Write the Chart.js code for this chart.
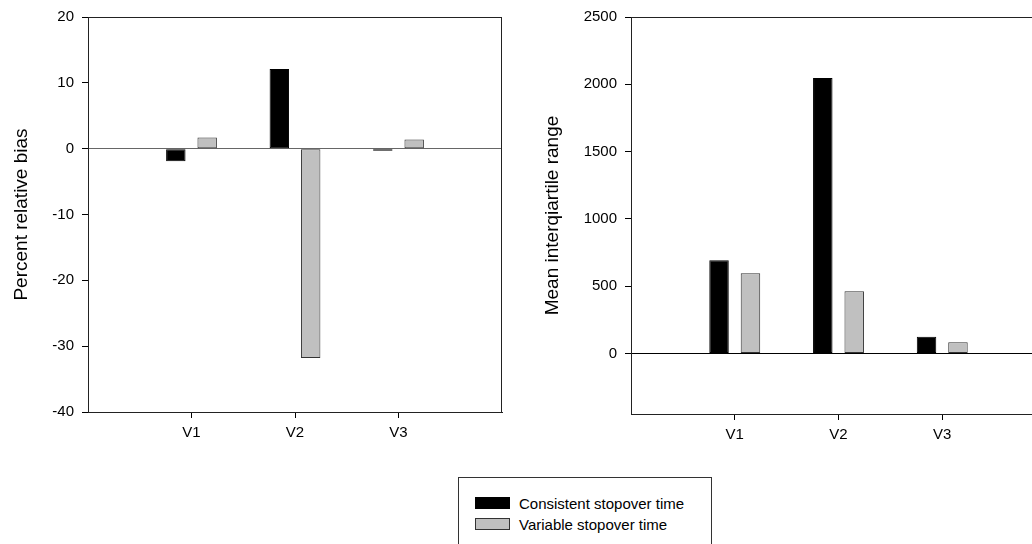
<!DOCTYPE html>
<html>
<head>
<meta charset="utf-8">
<script src="https://cdn.jsdelivr.net/npm/chart.js@4/dist/chart.umd.min.js"></script>
<style>
  html, body { margin: 0; padding: 0; background: #fff; overflow: hidden; }
  body { width: 1032px; height: 544px; position: relative; font-family: "Liberation Sans", Arial, sans-serif; }
  canvas { position: absolute; top: 0; }
  #biasChart { left: 0; }
  #iqrChart { left: 520px; }
  #legend { position: absolute; left: 458px; top: 477px; width: 252px; height: 100px; border: 1px solid #333; }
  .legend-item { position: absolute; left: 16px; height: 21px; line-height: 21px; font-size: 15px; color: #000; white-space: nowrap; }
  .legend-swatch { position: absolute; left: 0; top: 4px; width: 33px; height: 10px; border: 1px solid #333; }
  .legend-text { position: absolute; left: 44px; top: 0; }
</style>
</head>
<body>
<canvas id="biasChart" width="520" height="460"></canvas>
<canvas id="iqrChart" width="540" height="460"></canvas>
<div id="legend"></div>
<script>
// Data
const categories = ['V1', 'V2', 'V3'];
const seriesNames = ['Consistent stopover time', 'Variable stopover time'];
const biasConsistent = [-1.9, 12.1, -0.3];
const biasVariable = [1.7, -31.8, 1.4];
const iqrConsistent = [692, 2047, 124];
const iqrVariable = [596, 462, 84];

// Axis ranges and tick labels
const biasRange = [-40, 20];
const biasTickValues = [-40, -30, -20, -10, 0, 10, 20];
const iqrRange = [-450, 2500];
const iqrTickValues = [0, 500, 1000, 1500, 2000, 2500];

// Styles
const FONT = '"Liberation Sans", Arial, sans-serif';
const fillColors = ['#000000', '#c0c0c0'];
const edgeColors = ['#000000', '#333333'];

// empty slot at each end so V1..V3 sit at quarter points of the axis
const axisLabels = [''].concat(categories, ['']);
const pad = arr => [null].concat(arr, [null]);

// draws the top and right edges of the frame
const framePlugin = {
    id: 'frame',
    afterDraw(chart) {
        const a = chart.chartArea;
        const c = chart.ctx;
        c.save();
        c.strokeStyle = '#222';
        c.lineWidth = 1;
        c.strokeRect(Math.round(a.left) + 0.5, Math.round(a.top) + 0.5,
            Math.round(a.right - a.left) - 1, Math.round(a.bottom - a.top));
        c.restore();
    }
};

function makeChart(id, opts) {
    const datasets = opts.series.map((vals, i) => ({
        label: seriesNames[i],
        data: pad(vals),
        backgroundColor: fillColors[i],
        borderColor: edgeColors[i],
        borderWidth: 1,
        borderSkipped: false,
        categoryPercentage: 0.606,
        barPercentage: 0.62
    }));

    return new Chart(document.getElementById(id), {
        type: 'bar',
        data: { labels: axisLabels, datasets: datasets },
        options: {
            responsive: false,
            animation: false,
            events: [],
            layout: { padding: opts.padding },
            plugins: { legend: { display: false }, tooltip: { enabled: false } },
            scales: {
                x: {
                    offset: false,
                    grid: {
                        offset: false,
                        drawOnChartArea: false,
                        tickLength: 6,
                        tickColor: ctx => (ctx.index > 0 && ctx.index < axisLabels.length - 1) ? '#000' : 'rgba(0,0,0,0)'
                    },
                    border: { color: '#222' },
                    ticks: { color: '#000', font: { family: FONT, size: 15 }, padding: 6, maxRotation: 0, autoSkip: false },
                    afterFit: s => { s.height = opts.xHeight; }
                },
                y: {
                    min: opts.range[0],
                    max: opts.range[1],
                    grid: {
                        color: ctx => (ctx.tick && ctx.tick.value === 0) ? opts.zeroColor : 'rgba(0,0,0,0)',
                        tickColor: '#000',
                        tickLength: 6
                    },
                    border: { color: '#222' },
                    ticks: {
                        color: '#000',
                        font: { family: FONT, size: 15 },
                        padding: 8,
                        callback: v => String(v)
                    },
                    afterBuildTicks: s => { s.ticks = opts.tickValues.map(v => ({ value: v })); },
                    title: {
                        display: true,
                        text: opts.title,
                        color: '#000',
                        font: { family: FONT, size: 19 },
                        padding: { top: opts.titlePad, bottom: 0 }
                    },
                    afterFit: s => { s.width = opts.yWidth; }
                }
            }
        },
        plugins: [framePlugin]
    });
}

const biasChart = makeChart('biasChart', {
    series: [biasConsistent, biasVariable],
    range: biasRange,
    tickValues: biasTickValues,
    title: 'Percent relative bias',
    zeroColor: '#666',
    padding: { left: 0, top: 15, right: 18, bottom: 0 },
    yWidth: 88,
    xHeight: 48,
    titlePad: 10
});

const iqrChart = makeChart('iqrChart', {
    series: [iqrConsistent, iqrVariable],
    range: iqrRange,
    tickValues: iqrTickValues,
    title: 'Mean interqiartile range',
    zeroColor: '#000',
    padding: { left: 0, top: 16, right: 14, bottom: 0 },
    yWidth: 111,
    xHeight: 46,
    titlePad: 21
});

// Legend built from the datasets
const legendEl = document.getElementById('legend');
biasChart.data.datasets.forEach((ds, i) => {
    const item = document.createElement('div');
    item.className = 'legend-item';
    item.style.top = (15 + i * 21) + 'px';
    item.innerHTML = `<span class="legend-swatch" style="background:${ds.backgroundColor};border-color:${ds.borderColor}"></span>` +
        `<span class="legend-text">${ds.label}</span>`;
    legendEl.appendChild(item);
});
</script>
</body>
</html>
